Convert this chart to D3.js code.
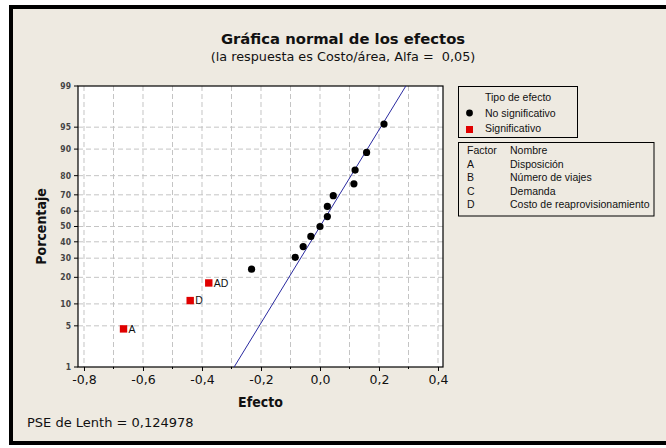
<!DOCTYPE html>
<html>
<head>
<meta charset="utf-8">
<script src="https://cdn.jsdelivr.net/npm/d3@7"></script>
<style>
  html, body { margin: 0; padding: 0; background: #fff; }
  svg { display: block; }
</style>
</head>
<body>
<script>
// Effects sorted by size, with their normal plotting percentage
const effects = [-0.666, -0.440, -0.377, -0.232, -0.084, -0.057, -0.031, 0.000, 0.025, 0.025, 0.045, 0.115, 0.119, 0.158, 0.217];
const percents = [4.5, 11.0, 17.5, 24.0, 30.5, 37.0, 43.5, 50.0, 56.5, 63.0, 69.5, 76.0, 82.5, 89.0, 95.5];
const effectLabels = ["A", "D", "AD", "", "", "", "", "", "", "", "", "", "", "", ""];
const significant = [true, true, true, false, false, false, false, false, false, false, false, false, false, false, false];

// Reference line (Lenth)
const fitEffect = [-0.291, 0.291];
const fitPercent = [1, 99];

const xTicks = [-0.8, -0.6, -0.4, -0.2, 0.0, 0.2, 0.4];
const xGrid = [-0.8, -0.7, -0.6, -0.5, -0.4, -0.3, -0.2, -0.1, 0.0, 0.1, 0.2, 0.3, 0.4];
const yTicks = [1, 5, 10, 20, 30, 40, 50, 60, 70, 80, 90, 95, 99];

const factorCodes = ["A", "B", "C", "D"];
const factorNames = ["Disposición", "Número de viajes", "Demanda", "Costo de reaprovisionamiento"];

// inverse normal cdf (Acklam)
function probit(p) {
    const a = [-3.969683028665376e+01, 2.209460984245205e+02, -2.759285104469687e+02, 1.383577518672690e+02, -3.066479806614716e+01, 2.506628277459239e+00];
    const b = [-5.447609879822406e+01, 1.615858368580409e+02, -1.556989798598866e+02, 6.680131188771972e+01, -1.328068155288572e+01];
    const c = [-7.784894002430293e-03, -3.223964580411365e-01, -2.400758277161838e+00, -2.549732539343734e+00, 4.374664141464968e+00, 2.938163982698783e+00];
    const d = [7.784695709041462e-03, 3.224671290700398e-01, 2.445134137142996e+00, 3.754408661907416e+00];
    const pl = 0.02425;
    let q, r;
    if (p < pl) {
        q = Math.sqrt(-2 * Math.log(p));
        return (((((c[0]*q+c[1])*q+c[2])*q+c[3])*q+c[4])*q+c[5]) / ((((d[0]*q+d[1])*q+d[2])*q+d[3])*q+1);
    } else if (p <= 1 - pl) {
        q = p - 0.5; r = q * q;
        return (((((a[0]*r+a[1])*r+a[2])*r+a[3])*r+a[4])*r+a[5])*q / (((((b[0]*r+b[1])*r+b[2])*r+b[3])*r+b[4])*r+1);
    } else {
        q = Math.sqrt(-2 * Math.log(1 - p));
        return -(((((c[0]*q+c[1])*q+c[2])*q+c[3])*q+c[4])*q+c[5]) / ((((d[0]*q+d[1])*q+d[2])*q+d[3])*q+1);
    }
}

const W = 666, H = 448;
const plot = { left: 78, right: 443, top: 86, bottom: 367 };
const font = "'DejaVu Sans', sans-serif";
const condFont = "'DejaVu Sans Condensed', 'DejaVu Sans', sans-serif";
const smallFont = "'Liberation Sans', Arial, sans-serif";

const x = d3.scaleLinear()
    .domain([-0.8203, 0.4170])
    .range([plot.left, plot.right]);

const zScale = d3.scaleLinear()
    .domain([probit(0.01), probit(0.99)])
    .range([plot.bottom, plot.top]);
const y = p => zScale(probit(p / 100));

const svg = d3.select("body").append("svg")
    .attr("width", W)
    .attr("height", H);

// background + frame
svg.append("rect").attr("width", W).attr("height", H).attr("fill", "#fff");
svg.append("rect")
    .attr("x", 11).attr("y", 7)
    .attr("width", W).attr("height", 436)
    .attr("fill", "#eeeae1")
    .attr("stroke", "#000")
    .attr("stroke-width", 4);

// Title
svg.append("text")
    .attr("x", 343).attr("y", 44)
    .attr("text-anchor", "middle")
    .style("font-family", font)
    .style("font-size", "14.8px")
    .style("font-weight", "bold")
    .attr("fill", "#111")
    .text("Gráfica normal de los efectos");

svg.append("text")
    .attr("x", 343).attr("y", 61)
    .attr("text-anchor", "middle")
    .style("font-family", font)
    .style("font-size", "12.8px")
    .style("white-space", "pre")
    .attr("fill", "#111")
    .text("(la respuesta es Costo/área, Alfa =  0,05)");

// Plot area
svg.append("rect")
    .attr("x", plot.left).attr("y", plot.top)
    .attr("width", plot.right - plot.left)
    .attr("height", plot.bottom - plot.top)
    .attr("fill", "#fff");

// Grid
svg.append("g")
    .selectAll("line")
    .data(xGrid)
    .join("line")
    .attr("x1", d => x(d)).attr("x2", d => x(d))
    .attr("y1", plot.top).attr("y2", plot.bottom)
    .attr("stroke", "#c4c4c4")
    .attr("stroke-dasharray", "5,3");

svg.append("g")
    .selectAll("line")
    .data(yTicks.filter(d => d > 1 && d < 99))
    .join("line")
    .attr("x1", plot.left).attr("x2", plot.right)
    .attr("y1", d => y(d)).attr("y2", d => y(d))
    .attr("stroke", "#c4c4c4")
    .attr("stroke-dasharray", "5,3");

// X axis
const xAxis = svg.append("g")
    .attr("transform", `translate(0,${plot.bottom})`)
    .call(d3.axisBottom(x).tickValues(xTicks).tickSize(4).tickPadding(4)
        .tickFormat(d => d3.format(".1f")(d).replace(".", ",").replace("−", "-")));
xAxis.select(".domain").remove();
xAxis.selectAll("text")
    .style("font-family", font)
    .style("font-size", "12.5px")
    .attr("fill", "#111");

// minor ticks
svg.append("g")
    .selectAll("line")
    .data(xGrid.filter(d => !xTicks.some(t => Math.abs(t - d) < 1e-9)))
    .join("line")
    .attr("x1", d => x(d)).attr("x2", d => x(d))
    .attr("y1", plot.bottom).attr("y2", plot.bottom + 2)
    .attr("stroke", "#000");

// Y axis
const yAxis = svg.append("g");
yAxis.selectAll("line")
    .data(yTicks)
    .join("line")
    .attr("x1", plot.left - 4).attr("x2", plot.left)
    .attr("y1", d => y(d)).attr("y2", d => y(d))
    .attr("stroke", "#000");
yAxis.selectAll("text")
    .data(yTicks)
    .join("text")
    .attr("x", plot.left - 7)
    .attr("y", d => y(d))
    .attr("dy", "0.35em")
    .attr("text-anchor", "end")
    .style("font-family", condFont)
    .style("font-size", "8.5px")
    .style("font-weight", "bold")
    .attr("fill", "#444")
    .text(d => d);

// plot border
svg.append("rect")
    .attr("x", plot.left).attr("y", plot.top)
    .attr("width", plot.right - plot.left)
    .attr("height", plot.bottom - plot.top)
    .attr("fill", "none")
    .attr("stroke", "#000")
    .attr("stroke-width", 1.2);

// Axis titles
svg.append("text")
    .attr("x", (plot.left + plot.right) / 2).attr("y", 407)
    .attr("text-anchor", "middle")
    .style("font-family", condFont)
    .style("font-size", "14px")
    .style("font-weight", "bold")
    .attr("fill", "#111")
    .text("Efecto");

svg.append("text")
    .attr("transform", `translate(46,${(plot.top + plot.bottom) / 2}) rotate(-90)`)
    .attr("text-anchor", "middle")
    .style("font-family", condFont)
    .style("font-size", "14px")
    .style("font-weight", "bold")
    .attr("fill", "#111")
    .text("Porcentaje");

// Reference line
svg.append("line")
    .attr("x1", x(fitEffect[0])).attr("y1", y(fitPercent[0]))
    .attr("x2", x(fitEffect[1])).attr("y2", y(fitPercent[1]))
    .attr("stroke", "#2a2aa0")
    .attr("stroke-width", 1);

// Points
const pts = effects.map((e, i) => ({ e, p: percents[i], label: effectLabels[i], sig: significant[i] }));

svg.append("g")
    .selectAll("circle")
    .data(pts.filter(d => !d.sig))
    .join("circle")
    .attr("cx", d => x(d.e))
    .attr("cy", d => y(d.p))
    .attr("r", 3.6)
    .attr("fill", "#000");

svg.append("g")
    .selectAll("rect")
    .data(pts.filter(d => d.sig))
    .join("rect")
    .attr("x", d => x(d.e) - 3.7)
    .attr("y", d => y(d.p) - 3.7)
    .attr("width", 7.4).attr("height", 7.4)
    .attr("fill", "#e00000");

svg.append("g")
    .selectAll("text")
    .data(pts.filter(d => d.label))
    .join("text")
    .attr("x", d => x(d.e) + 5)
    .attr("y", d => y(d.p))
    .attr("dy", "0.35em")
    .style("font-family", smallFont)
    .style("font-size", "10.5px")
    .attr("fill", "#111")
    .text(d => d.label);

// PSE
svg.append("text")
    .attr("x", 27).attr("y", 427)
    .style("font-family", font)
    .style("font-size", "13px")
    .attr("fill", "#111")
    .text("PSE de Lenth = 0,124978");

// Legend 1
const lg = svg.append("g");
lg.append("rect")
    .attr("x", 458.5).attr("y", 86.5)
    .attr("width", 119).attr("height", 51)
    .attr("fill", "none").attr("stroke", "#000");
lg.append("text").attr("x", 485).attr("y", 101).text("Tipo de efecto");
lg.append("circle").attr("cx", 469.5).attr("cy", 113).attr("r", 3.4).attr("fill", "#000");
lg.append("text").attr("x", 485).attr("y", 116.5).text("No significativo");
lg.append("rect").attr("x", 466).attr("y", 126).attr("width", 7).attr("height", 7).attr("fill", "#e00000");
lg.append("text").attr("x", 485).attr("y", 132).text("Significativo");

// Legend 2
lg.append("rect")
    .attr("x", 458.5).attr("y", 142.5)
    .attr("width", 195.5).attr("height", 73.5)
    .attr("fill", "none").attr("stroke", "#000");
lg.append("text").attr("x", 467).attr("y", 154).text("Factor");
lg.append("text").attr("x", 510).attr("y", 154).text("Nombre");
factorCodes.forEach((c, i) => {
    lg.append("text").attr("x", 467).attr("y", 167.5 + i * 13.5).text(c);
    lg.append("text").attr("x", 510).attr("y", 167.5 + i * 13.5).text(factorNames[i]);
});
lg.selectAll("text")
    .style("font-family", smallFont)
    .style("font-size", "10.5px")
    .attr("fill", "#111");
</script>
</body>
</html>
